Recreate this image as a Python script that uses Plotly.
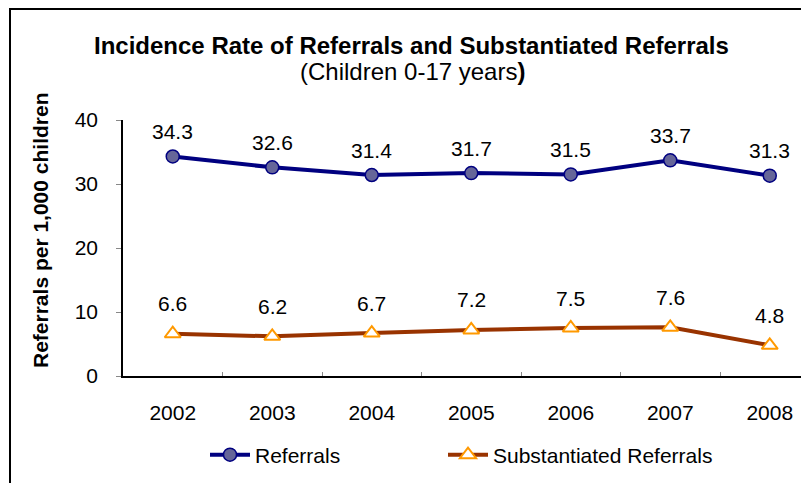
import plotly.graph_objects as go

years = ["2002", "2003", "2004", "2005", "2006", "2007", "2008"]
referrals = [34.3, 32.6, 31.4, 31.7, 31.5, 33.7, 31.3]
substantiated = [6.6, 6.2, 6.7, 7.2, 7.5, 7.6, 4.8]
y_ticks = [0, 10, 20, 30, 40]

FONT = "Arial, Liberation Sans, sans-serif"
S = 8  # page body margin offset
W, H = 809, 483
# reference screen coords of the plot area
X0, X1r, Y0, Y1 = 123, 819.5, 120, 376
L = X0 - S
T = Y0 - S
B = H - (Y1 - S)
R = 0
pw, ph = W - L - R, H - T - B
cat_w = (X1r - X0) / 7.0
x_end = 6.5 - ((X1r - S) - W) / cat_w

def px_x(x):  # reference screen x -> paper
    return (x - S - L) / pw

def px_y(y):  # reference screen y -> paper
    return (H - B - (y - S)) / ph

fig = go.Figure()
fig.add_trace(go.Scatter(
    x=years, y=referrals, name="Referrals", mode="lines+markers",
    line=dict(color="#000080", width=4),
    marker=dict(symbol="circle", size=13, color="#666699",
                line=dict(color="#000080", width=1.5)),
    legend="legend",
))
fig.add_trace(go.Scatter(
    x=years, y=substantiated, name="Substantiated Referrals", mode="lines+markers",
    line=dict(color="#993300", width=4),
    marker=dict(symbol="triangle-up", size=14, color="white",
                line=dict(color="#FF9900", width=2)),
    legend="legend2",
))

annotations = []
for ys, shift in ((referrals, 25), (substantiated, 30)):
    for i, yv in enumerate(ys):
        annotations.append(dict(x=i, y=yv, xref="x", yref="y", text=f"{yv:.1f}",
                                showarrow=False, yshift=shift,
                                font=dict(family=FONT, size=21, color="black")))

annotations.append(dict(xref="paper", yref="paper", x=px_x(411), y=px_y(45),
                        text="<b>Incidence Rate of Referrals and Substantiated Referrals</b>",
                        showarrow=False, xanchor="center", yanchor="middle",
                        font=dict(family=FONT, size=24, color="black")))
annotations.append(dict(xref="paper", yref="paper", x=px_x(412), y=px_y(71),
                        text="(Children 0-17 years<b>)</b>",
                        showarrow=False, xanchor="center", yanchor="middle",
                        font=dict(family=FONT, size=24, color="black")))
annotations.append(dict(xref="paper", yref="paper", x=px_x(40), y=px_y(231),
                        text="<b>Referrals per 1,000 children</b>", textangle=-90,
                        showarrow=False, xanchor="center", yanchor="middle",
                        font=dict(family=FONT, size=21, color="black")))

legend_common = dict(orientation="h", xanchor="left", yanchor="middle",
                     font=dict(family=FONT, size=21, color="black"),
                     itemwidth=40, bgcolor="rgba(0,0,0,0)")

fig.update_layout(
    width=W, height=H,
    margin=dict(l=L, r=R, t=T, b=B, pad=0),
    paper_bgcolor="white", plot_bgcolor="white",
    font=dict(family=FONT, size=21, color="black"),
    showlegend=True,
    legend=dict(x=px_x(205), y=px_y(455), **legend_common),
    legend2=dict(x=px_x(443), y=px_y(455), **legend_common),
    annotations=annotations,
    shapes=[dict(type="rect", xref="paper", yref="paper",
                 x0=px_x(10), x1=px_x(950), y0=px_y(700), y1=px_y(S + 1),
                 line=dict(color="black", width=2), fillcolor="rgba(0,0,0,0)", layer="above")],
)
fig.update_xaxes(
    type="category", range=[-0.5, x_end],
    showline=True, linecolor="black", linewidth=1.5,
    ticks="inside", ticklen=4, tickcolor="#888", tickson="boundaries",
    showgrid=False, zeroline=False, ticklabelstandoff=17,
    tickfont=dict(family=FONT, size=21, color="black"),
)
fig.update_yaxes(
    range=[0, 40], tickvals=y_ticks,
    showline=True, linecolor="black", linewidth=1.5,
    ticks="outside", ticklen=5, tickcolor="#888",
    showgrid=False, zeroline=False, ticklabelstandoff=14,
    tickfont=dict(family=FONT, size=21, color="black"),
)

fig.write_html("out.html")
